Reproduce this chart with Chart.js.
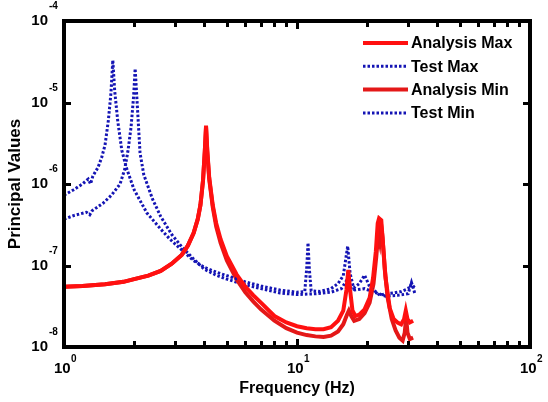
<!DOCTYPE html>
<html>
<head>
<meta charset="utf-8">
<script src="https://cdn.jsdelivr.net/npm/chart.js@4.4.1/dist/chart.umd.min.js"></script>
<style>
  body { margin: 0; background: #fff; }
  #wrap { width: 548px; height: 402px; }
</style>
</head>
<body>
<div id="wrap"><canvas id="chart" width="548" height="402"></canvas></div>
<script>
// series data (frequency in Hz, principal value)
const analysisMaxFreq = [1.0, 1.2, 1.5, 1.8, 2.0, 2.3, 2.6, 2.9, 3.2, 3.4, 3.6, 3.75, 3.85, 3.95, 4.02, 4.07, 4.12, 4.2, 4.35, 4.5, 4.7, 5.0, 5.5, 6.0, 6.5, 7.0, 8.0, 9.0, 10, 11, 12, 13, 14, 15, 15.8, 16.3, 16.6, 16.9, 17.3, 17.8, 18.5, 19.5, 20.5, 21.2, 21.8, 22.2, 22.5, 23.0, 23.4, 24, 25, 26, 27, 28, 28.8, 29.3, 29.8, 30.5, 31.5];
const analysisMaxVal = [5.5e-8, 5.6e-8, 5.9e-8, 6.3e-8, 6.8e-8, 7.5e-8, 8.6e-8, 1.05e-7, 1.35e-7, 1.75e-7, 2.5e-7, 3.7e-7, 5.5e-7, 1.1e-6, 2.5e-6, 5.2e-6, 2.6e-6, 1.2e-6, 5.5e-7, 3.3e-7, 2.1e-7, 1.3e-7, 7.8e-8, 5.5e-8, 4.3e-8, 3.5e-8, 2.4e-8, 2.0e-8, 1.8e-8, 1.7e-8, 1.65e-8, 1.65e-8, 1.75e-8, 2.1e-8, 2.8e-8, 5e-8, 8.8e-8, 5e-8, 2.8e-8, 2.4e-8, 2.5e-8, 2.9e-8, 4e-8, 7e-8, 1.5e-7, 3.3e-7, 3.8e-7, 3.6e-7, 1.8e-7, 7e-8, 3e-8, 2.2e-8, 2.0e-8, 1.9e-8, 2.2e-8, 2.8e-8, 2.2e-8, 2.0e-8, 2.1e-8];

const analysisMinFreq = [1.0, 1.2, 1.5, 1.8, 2.0, 2.3, 2.6, 2.9, 3.2, 3.4, 3.6, 3.75, 3.85, 3.95, 4.02, 4.07, 4.12, 4.2, 4.35, 4.5, 4.7, 5.0, 5.5, 6.0, 6.5, 7.0, 8.0, 9.0, 10, 11, 12, 13, 14, 15, 15.8, 16.4, 16.7, 17.1, 17.6, 18.5, 19.5, 20.5, 21.3, 21.9, 22.3, 22.6, 22.9, 23.3, 23.8, 24.5, 25.5, 26.5, 27.5, 28.4, 29.0, 29.4, 29.8, 30.5, 31.5];
const analysisMinVal = [5.5e-8, 5.6e-8, 5.9e-8, 6.3e-8, 6.8e-8, 7.5e-8, 8.6e-8, 1.05e-7, 1.35e-7, 1.75e-7, 2.5e-7, 3.7e-7, 5.5e-7, 1.1e-6, 2.5e-6, 5.0e-6, 2.5e-6, 1.15e-6, 5.2e-7, 3.0e-7, 1.9e-7, 1.15e-7, 6.8e-8, 4.7e-8, 3.6e-8, 2.9e-8, 2.1e-8, 1.7e-8, 1.5e-8, 1.4e-8, 1.35e-8, 1.33e-8, 1.38e-8, 1.55e-8, 1.9e-8, 2.5e-8, 2.8e-8, 2.4e-8, 2.1e-8, 2.2e-8, 2.6e-8, 3.5e-8, 6e-8, 1.3e-7, 2.4e-7, 2.0e-7, 3.4e-7, 2.2e-7, 9e-8, 4e-8, 2.2e-8, 1.6e-8, 1.3e-8, 1.2e-8, 1.5e-8, 2.3e-8, 1.5e-8, 1.25e-8, 1.3e-8];

const testMaxFreq = [1.0, 1.1, 1.2, 1.27, 1.3, 1.33, 1.4, 1.45, 1.5, 1.55, 1.59, 1.62, 1.65, 1.7, 1.77, 1.85, 2.0, 2.27, 2.6, 2.85, 3.2, 3.58, 4.0, 4.5, 5, 6, 7, 8.45, 10, 10.8, 11.0, 11.15, 11.3, 11.5, 12.5, 14, 15, 15.8, 16.5, 16.9, 17.5, 18.5, 19.5, 20.5, 22.7, 24, 26, 28, 30, 31, 32];
const testMaxVal = [7.3e-7, 8.5e-7, 1.0e-6, 1.15e-6, 1.0e-6, 1.25e-6, 1.6e-6, 2.1e-6, 3.0e-6, 6e-6, 1.3e-5, 3.3e-5, 1.4e-5, 6e-6, 2.6e-6, 1.6e-6, 8.5e-7, 4.4e-7, 2.8e-7, 2.1e-7, 1.55e-7, 1.16e-7, 9.5e-8, 8.3e-8, 7.5e-8, 6.3e-8, 5.6e-8, 5.0e-8, 4.7e-8, 4.8e-8, 9e-8, 1.9e-7, 9e-8, 4.9e-8, 4.8e-8, 5.2e-8, 6.0e-8, 7.5e-8, 1.73e-7, 8e-8, 5.3e-8, 6e-8, 7.6e-8, 5.5e-8, 4.3e-8, 4.5e-8, 4.6e-8, 4.8e-8, 5.2e-8, 6.0e-8, 5.3e-8];

const testMinFreq = [1.0, 1.1, 1.25, 1.29, 1.32, 1.47, 1.6, 1.74, 1.82, 1.88, 1.94, 1.99, 2.02, 2.06, 2.12, 2.2, 2.4, 2.6, 2.9, 3.2, 3.6, 4, 4.5, 5, 6, 7, 8.45, 10, 12, 14, 15.5, 16.3, 16.7, 17.7, 19.5, 21, 22.5, 24, 27, 30, 31, 32];
const testMinVal = [3.7e-7, 4.1e-7, 4.5e-7, 4.2e-7, 4.7e-7, 5.8e-7, 7.3e-7, 1.0e-6, 1.5e-6, 2.5e-6, 5e-6, 1.2e-5, 2.6e-5, 1.0e-5, 2.4e-6, 1.3e-6, 6.5e-7, 4.0e-7, 2.4e-7, 1.7e-7, 1.2e-7, 9e-8, 7.6e-8, 6.8e-8, 5.8e-8, 5.2e-8, 4.6e-8, 4.4e-8, 4.5e-8, 4.7e-8, 5.2e-8, 6.5e-8, 5.5e-8, 5.0e-8, 5.2e-8, 4.8e-8, 4.5e-8, 4.2e-8, 4.3e-8, 4.5e-8, 6.2e-8, 4.6e-8];

// axis ticks
const xMajorTicks = [1, 10, 100];
const xTickExp = ['0', '1', '2'];
const xMinorTicks = [2, 3, 4, 5, 6, 7, 8, 9, 20, 30, 40, 50, 60, 70, 80, 90];
const yMajorTicks = [1e-8, 1e-7, 1e-6, 1e-5, 1e-4];
const yTickExp = ['-8', '-7', '-6', '-5', '-4'];

const FONT = '"Liberation Sans", Arial, sans-serif';
const RED = '#ff1010';
const RED2 = '#e41818';
const BLUE = '#1414b4';

function pairs(xs, ys) {
    return xs.map((x, i) => ({ x: x, y: ys[i] }));
}

// frame, ticks, labels and legend
const decorPlugin = {
    id: 'decor',
    afterDraw(chart) {
        const ctx = chart.ctx;
        const a = chart.chartArea;
        const xs = chart.scales.x;
        const ys = chart.scales.y;
        const L = Math.round(a.left), R = Math.round(a.right);
        const T = Math.round(a.top), B = Math.round(a.bottom);
        ctx.save();
        ctx.globalAlpha = 1;
        ctx.globalCompositeOperation = 'source-over';
        ctx.fillStyle = '#000';

        // frame (filled bars, 4px)
        ctx.fillRect(L - 2, T - 2, R - L + 4, 4);
        ctx.fillRect(L - 2, B - 2, R - L + 4, 4);
        ctx.fillRect(L - 2, T - 2, 4, B - T + 4);
        ctx.fillRect(R - 2, T - 2, 4, B - T + 4);

        // inward ticks
        xMinorTicks.forEach(v => {
            const px = Math.round(xs.getPixelForValue(v));
            ctx.fillRect(px - 1, B - 6, 3, 6);
            ctx.fillRect(px - 1, T, 3, 6);
        });
        xMajorTicks.forEach(v => {
            const px = Math.round(xs.getPixelForValue(v));
            ctx.fillRect(px - 1, B - 8, 3, 8);
            ctx.fillRect(px - 1, T, 3, 8);
        });
        yMajorTicks.forEach(v => {
            const py = Math.round(ys.getPixelForValue(v));
            ctx.fillRect(L, py - 1, 7, 3);
            ctx.fillRect(R - 7, py - 1, 7, 3);
        });

        // tick labels
        ctx.textBaseline = 'alphabetic';
        xMajorTicks.forEach((v, i) => {
            const px = xs.getPixelForValue(v);
            ctx.font = 'bold 15px ' + FONT;
            ctx.textAlign = 'left';
            ctx.fillText('10', px - 10, B + 26);
            ctx.font = 'bold 10px ' + FONT;
            ctx.fillText(xTickExp[i], px + 7, B + 15);
        });
        yMajorTicks.forEach((v, i) => {
            const py = ys.getPixelForValue(v);
            ctx.font = 'bold 15px ' + FONT;
            ctx.textAlign = 'right';
            ctx.fillText('10', L - 16, py + 4);
            ctx.font = 'bold 10px ' + FONT;
            ctx.textAlign = 'left';
            ctx.fillText(yTickExp[i], L - 15, py - 12);
        });

        // axis titles
        ctx.font = 'bold 16px ' + FONT;
        ctx.textAlign = 'center';
        ctx.fillText('Frequency (Hz)', (L + R) / 2, 393);
        ctx.save();
        ctx.translate(20, (T + B) / 2);
        ctx.rotate(-Math.PI / 2);
        ctx.font = 'bold 17px ' + FONT;
        ctx.fillText('Principal Values', 0, 0);
        ctx.restore();

        // legend
        ctx.font = 'bold 16px ' + FONT;
        ctx.textAlign = 'left';
        ctx.textBaseline = 'middle';
        chart.data.datasets.forEach((ds, i) => {
            const y = 43 + i * 23.3;
            ctx.strokeStyle = ds.borderColor;
            ctx.lineWidth = ds.borderWidth;
            ctx.setLineDash(ds.borderDash || []);
            ctx.beginPath();
            ctx.moveTo(363, y); ctx.lineTo(408, y);
            ctx.stroke();
            ctx.setLineDash([]);
            ctx.fillStyle = '#000';
            ctx.fillText(ds.label, 411, y + 1);
        });
        ctx.restore();
    }
};

new Chart(document.getElementById('chart'), {
    type: 'line',
    data: {
        datasets: [
            { label: 'Analysis Max', data: pairs(analysisMaxFreq, analysisMaxVal), borderColor: RED, borderWidth: 4 },
            { label: 'Test Max', data: pairs(testMaxFreq, testMaxVal), borderColor: BLUE, borderWidth: 3, borderDash: [2.5, 2] },
            { label: 'Analysis Min', data: pairs(analysisMinFreq, analysisMinVal), borderColor: RED2, borderWidth: 4 },
            { label: 'Test Min', data: pairs(testMinFreq, testMinVal), borderColor: BLUE, borderWidth: 3, borderDash: [2.5, 2] }
        ]
    },
    options: {
        responsive: false,
        animation: false,
        layout: { padding: { left: 64, right: 18, top: 21, bottom: 55 } },
        elements: { point: { radius: 0 }, line: { tension: 0, fill: false } },
        plugins: { legend: { display: false }, tooltip: { enabled: false } },
        scales: {
            x: { type: 'logarithmic', min: 1, max: 100, display: false },
            y: { type: 'logarithmic', min: 1e-8, max: 1e-4, display: false }
        }
    },
    plugins: [decorPlugin]
});
</script>
</body>
</html>
